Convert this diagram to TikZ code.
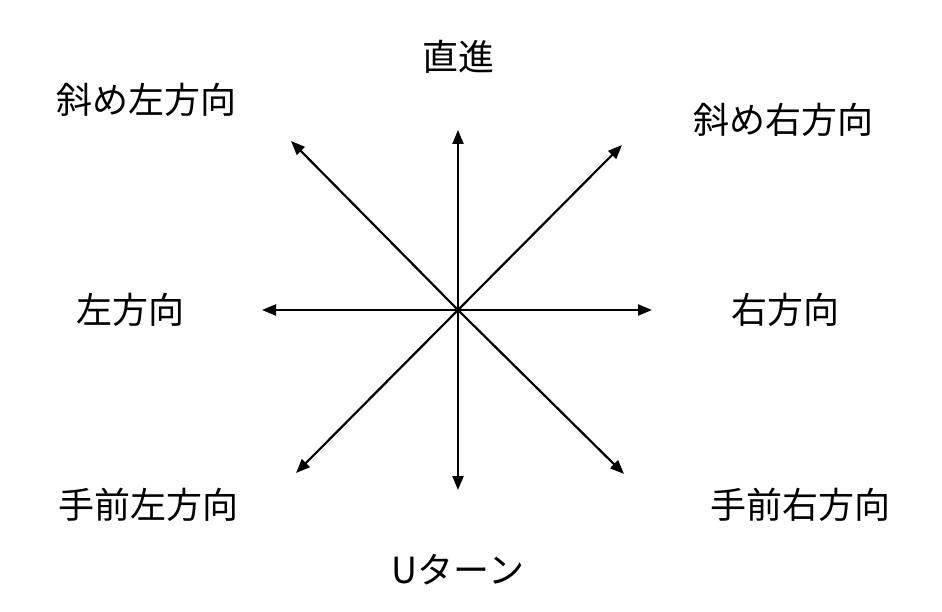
\documentclass[tikz,border=0pt]{standalone}
\usepackage{fontspec}
\setmainfont{Noto Sans CJK JP}
\usetikzlibrary{arrows.meta}
\begin{document}
\begin{tikzpicture}[x=1pt,y=-1pt,
  arr/.style={line width=2.2pt,-{Triangle[length=14pt,width=11pt]}},
  lbl/.style={font=\fontsize{36}{40}\selectfont,inner sep=0pt}]
\useasboundingbox (0,0) rectangle (942,612);
\coordinate (c) at (458,310);
\coordinate (n) at (458,130);
\coordinate (s) at (458,490);
\coordinate (w) at (262,310);
\coordinate (e) at (652,310);
\coordinate (ne) at (622,145);
\coordinate (nw) at (291,141);
\coordinate (sw) at (296,473);
\coordinate (se) at (624,474);
\foreach \t in {n,s,w,e,ne,nw,sw,se} \draw[arr] (c) -- (\t);
\node[lbl] (l1) at (458,57) {直進};
\node[lbl] (l2) at (146,100) {斜め左方向};
\node[lbl] (l3) at (783,120) {斜め右方向};
\node[lbl] (l4) at (130,310) {左方向};
\node[lbl] (l5) at (785,310) {右方向};
\node[lbl] (l6) at (148,505) {手前左方向};
\node[lbl] (l7) at (800,505) {手前右方向};
\node[lbl] (l8) at (458,570) {Uターン};
\end{tikzpicture}
\end{document}
